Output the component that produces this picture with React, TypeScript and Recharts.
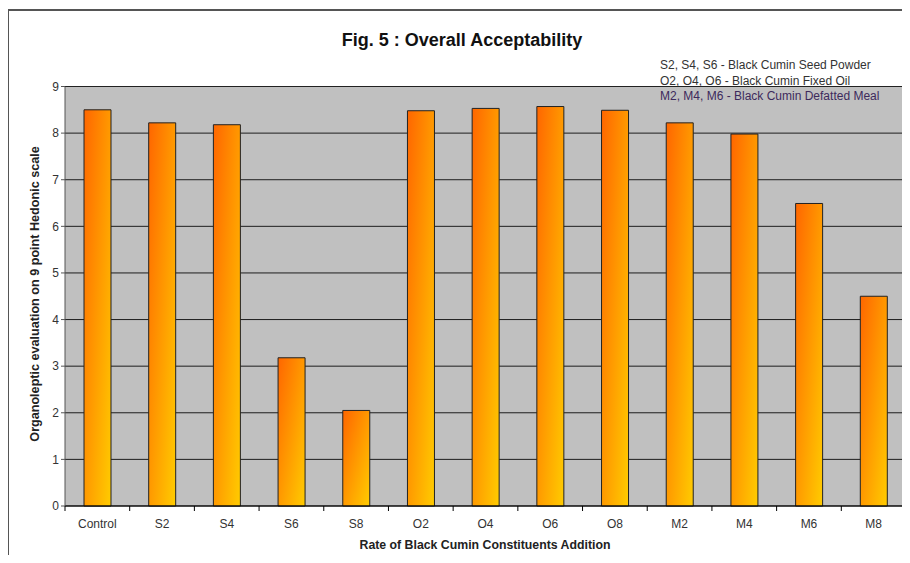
import React from 'react'
import { BarChart, Bar, XAxis, YAxis, CartesianGrid } from 'recharts'

// categories and mean scores
const categories = ['Control', 'S2', 'S4', 'S6', 'S8', 'O2', 'O4', 'O6', 'O8', 'M2', 'M4', 'M6', 'M8']
const scores = [8.5, 8.22, 8.18, 3.18, 2.05, 8.48, 8.53, 8.57, 8.49, 8.22, 7.98, 6.49, 4.5]
const yTicks = [0, 1, 2, 3, 4, 5, 6, 7, 8, 9]
const notes = [
  'S2, S4, S6 - Black Cumin Seed Powder',
  'O2, O4, O6 - Black Cumin Fixed Oil',
  'M2, M4, M6 - Black Cumin Defatted Meal'
]

const chartData = categories.map((name, i) => ({ name, value: scores[i] }))

const W = 910
const H = 563
const PLOT_LEFT = 65
const PLOT_RIGHT = 906
const BAND = (PLOT_RIGHT - PLOT_LEFT) / categories.length

const font = 'Arial, "Liberation Sans", sans-serif'

function CategoryTick(props: any) {
  const { x, y, payload, index } = props
  const isLast = index === categories.length - 1
  return (
    <g>
      <line x1={x - BAND / 2} y1={y - 8} x2={x - BAND / 2} y2={y - 3} stroke="#000" />
      {isLast && <line x1={x + BAND / 2} y1={y - 8} x2={x + BAND / 2} y2={y - 3} stroke="#000" />}
      <text x={x} y={y + 14} textAnchor="middle" fontSize={12} fill="#333" fontFamily={font}>
        {payload.value}
      </text>
    </g>
  )
}

export default function App() {
  return (
    <div style={{ position: 'relative', width: W, height: H, margin: -8, background: '#fff', overflow: 'hidden' }}>
      {/* outer frame */}
      <div style={{ position: 'absolute', left: 7, top: 9, width: W, height: 1.5, background: '#555' }} />
      <div style={{ position: 'absolute', left: 7, top: 9, width: 1.5, height: H, background: '#555' }} />

      <div
        style={{
          position: 'absolute', left: 0, width: W, top: 30, textAlign: 'center',
          fontFamily: font, fontWeight: 'bold', fontSize: 18, color: '#111', paddingLeft: 14,
          boxSizing: 'border-box'
        }}
      >
        Fig. 5 : Overall Acceptability
      </div>

      <BarChart
        width={W}
        height={H}
        data={chartData}
        margin={{ top: 86.5, right: W - PLOT_RIGHT, bottom: 26, left: 20 }}
        barSize={27}
        style={{ position: 'absolute', left: 0, top: 0 }}
      >
        <defs>
          <linearGradient id="barFill" x1="0" y1="0" x2="1" y2="1">
            <stop offset="0%" stopColor="#FF6600" />
            <stop offset="100%" stopColor="#FFCC00" />
          </linearGradient>
        </defs>
        <CartesianGrid vertical={false} stroke="#000" fill="#C0C0C0" strokeOpacity={0.85} />
        <XAxis
          dataKey="name"
          height={31}
          axisLine={{ stroke: '#000' }}
          tickLine={false}
          tick={<CategoryTick />}
          interval={0}
        />
        <YAxis
          width={45}
          domain={[0, 9]}
          ticks={yTicks}
          axisLine={{ stroke: '#555' }}
          tickLine={{ stroke: '#555' }}
          tickSize={4}
          tick={{ fontSize: 12, fill: '#333', fontFamily: font }}
        />
        <Bar dataKey="value" fill="url(#barFill)" stroke="#222" strokeWidth={1} isAnimationActive={false} />
      </BarChart>

      <div style={{ position: 'absolute', left: 660, top: 58, fontFamily: font, fontSize: 12, lineHeight: '15.5px' }}>
        {notes.map((t, i) => (
          <div key={t} style={{ color: i === 2 ? '#3d2a5c' : '#333', whiteSpace: 'nowrap' }}>{t}</div>
        ))}
      </div>

      <div
        style={{
          position: 'absolute', left: 0, width: W, top: 538, textAlign: 'center', paddingLeft: 60,
          fontFamily: font, fontWeight: 'bold', fontSize: 12.3, color: '#222', boxSizing: 'border-box'
        }}
      >
        Rate of Black Cumin Constituents Addition
      </div>
      <div
        style={{
          position: 'absolute', left: 35, top: 294, transform: 'translate(-50%, -50%) rotate(-90deg)',
          fontFamily: font, fontWeight: 'bold', fontSize: 12.6, color: '#222', whiteSpace: 'nowrap'
        }}
      >
        Organoleptic evaluation on 9 point Hedonic scale
      </div>
    </div>
  )
}
